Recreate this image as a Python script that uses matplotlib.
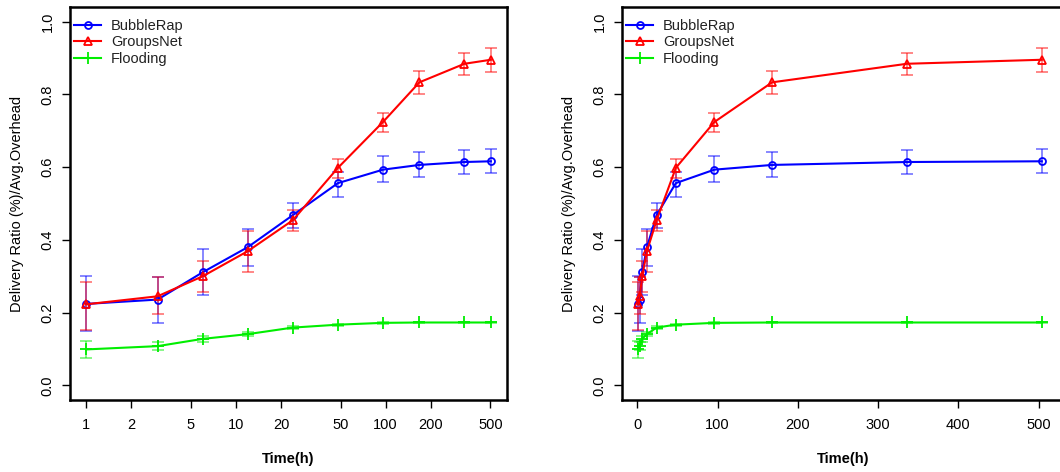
import matplotlib
matplotlib.use("Agg")
import matplotlib.pyplot as plt
import numpy as np

plt.rcParams['font.family'] = ['Liberation Sans', 'DejaVu Sans']

time_h = [1, 3, 6, 12, 24, 48, 96, 168, 336, 504]

bubble = [0.224, 0.236, 0.311, 0.380, 0.468, 0.556, 0.593, 0.606, 0.614, 0.616]
bubble_lo = [0.149, 0.172, 0.249, 0.328, 0.433, 0.518, 0.560, 0.572, 0.580, 0.584]
bubble_hi = [0.300, 0.298, 0.374, 0.430, 0.502, 0.586, 0.630, 0.642, 0.648, 0.649]

groups = [0.223, 0.245, 0.300, 0.369, 0.454, 0.598, 0.724, 0.833, 0.884, 0.895]
groups_lo = [0.151, 0.196, 0.256, 0.313, 0.424, 0.571, 0.696, 0.800, 0.852, 0.861]
groups_hi = [0.285, 0.298, 0.341, 0.424, 0.482, 0.621, 0.749, 0.864, 0.914, 0.927]

flood = [0.099, 0.108, 0.128, 0.141, 0.159, 0.167, 0.172, 0.173, 0.173, 0.173]
flood_lo = [0.076, 0.097, 0.120, 0.136, 0.155, 0.164, 0.170, 0.171, 0.171, 0.171]
flood_hi = [0.122, 0.119, 0.136, 0.146, 0.163, 0.170, 0.174, 0.175, 0.175, 0.175]

log_ticks = [1, 2, 5, 10, 20, 50, 100, 200, 500]
lin_ticks = [0, 100, 200, 300, 400, 500]
y_ticks = [0.0, 0.2, 0.4, 0.6, 0.8, 1.0]

series = [
    ("BubbleRap", bubble, bubble_lo, bubble_hi, "#0000ff", "o"),
    ("GroupsNet", groups, groups_lo, groups_hi, "#ff0000", "^"),
    ("Flooding", flood, flood_lo, flood_hi, "#00ee00", "+"),
]

fig = plt.figure(figsize=(10.6, 4.72), dpi=100)
ax1 = fig.add_axes([70/1060, 72/472, 437/1060, 393/472])
ax2 = fig.add_axes([622/1060, 72/472, 442/1060, 393/472])

for ax, logx in ((ax1, True), (ax2, False)):
    for name, v, lo, hi, col, mk in series:
        v = np.array(v); lo = np.array(lo); hi = np.array(hi)
        ax.errorbar(time_h, v, yerr=[v - lo, hi - v], fmt='none', ecolor=col,
                    elinewidth=1.2, capsize=4.5, capthick=1.2, alpha=0.55, zorder=2)
        ax.plot(time_h, v, color=col, lw=1.5, marker=mk,
                ms={'o': 5.0, '^': 6.0, '+': 8.0}[mk],
                mfc='none', mec=col, mew=1.3, label=name, zorder=3)
    if logx:
        ax.set_xscale('log')
        ax.set_xlim(10**(-0.108), 10**(np.log10(504) + 0.108))
        ax.set_xticks(log_ticks)
        ax.set_xticklabels([str(t) for t in log_ticks])
        ax.xaxis.set_minor_locator(matplotlib.ticker.NullLocator())
    else:
        ax.set_xlim(-19.1, 531.7)
        ax.set_xticks(lin_ticks)
        ax.set_xticklabels([str(t) for t in lin_ticks])
    ax.set_ylim(-0.04, 1.04)
    ax.set_yticks(y_ticks)
    ax.set_yticklabels([f"{t:.1f}" for t in y_ticks], rotation=90, va='center')
    ax.tick_params(axis='both', direction='out', length=6, width=1, labelsize=10.5, pad=5)
    ax.tick_params(axis='x', pad=7)
    for s in ax.spines.values():
        s.set_linewidth(1.8)
    ax.set_xlabel("Time(h)", fontsize=10.5, fontweight='bold', labelpad=14)
    ax.set_ylabel("Delivery Ratio (%)/Avg.Overhead", fontsize=10.5, labelpad=12)
    leg = ax.legend(loc='upper left', bbox_to_anchor=(0.0, 0.98), frameon=False,
                    fontsize=10.5, handlelength=1.8, handletextpad=0.7,
                    labelspacing=0.15, borderaxespad=0.1, borderpad=0.2)
    for t in leg.get_texts():
        t.set_color('#222222')

fig.savefig("out.png", dpi=100)
